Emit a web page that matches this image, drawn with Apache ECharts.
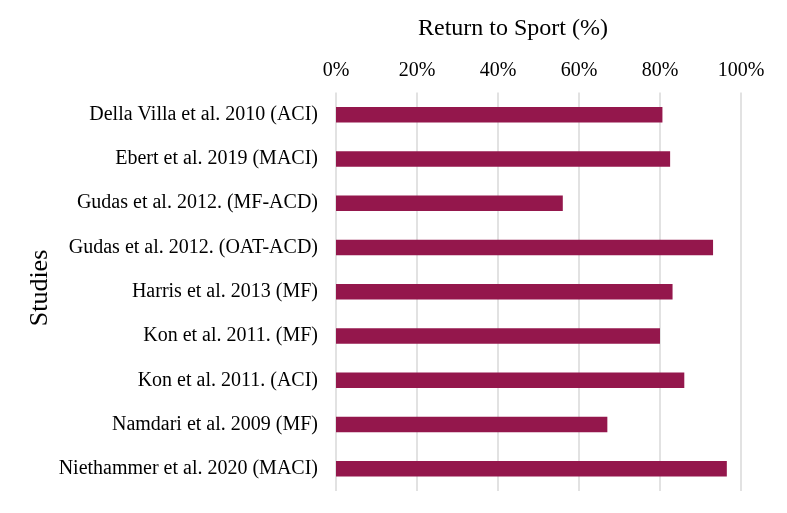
<!DOCTYPE html>
<html><head><meta charset="utf-8">
<script src="https://cdn.jsdelivr.net/npm/echarts@6/dist/echarts.min.js"></script>
<style>html,body{margin:0;padding:0;background:#fff}#c{width:787px;height:513px}</style>
</head><body><div id="c"></div>
<script>
const studies = [
  "Della Villa et al. 2010 (ACI)",
  "Ebert et al. 2019 (MACI)",
  "Gudas et al. 2012. (MF-ACD)",
  "Gudas et al. 2012. (OAT-ACD)",
  "Harris et al. 2013 (MF)",
  "Kon et al. 2011. (MF)",
  "Kon et al. 2011. (ACI)",
  "Namdari et al. 2009 (MF)",
  "Niethammer et al. 2020 (MACI)"
];
const returnToSport = [80.6, 82.5, 56.0, 93.1, 83.1, 80.0, 86.0, 67.0, 96.5];
const xTicks = [0, 20, 40, 60, 80, 100];

const chart = echarts.init(document.getElementById('c'));
const font = "'Liberation Serif', 'Times New Roman', serif";
chart.setOption({
  animation: false,
  title: {
    text: 'Return to Sport (%)',
    left: 508, top: 12, textAlign: 'center',
    textStyle: { fontFamily: font, fontSize: 24, fontWeight: 'normal', color: '#000' }
  },
  graphic: [{
    type: 'text', x: 40, y: 288, rotation: Math.PI / 2,
    style: { text: 'Studies', font: "26px 'Liberation Serif', 'Times New Roman', serif",
             fill: '#000', textAlign: 'center', textVerticalAlign: 'middle' }
  }],
  grid: { left: 336, right: 46, top: 92.5, bottom: 22 },
  xAxis: {
    type: 'value', position: 'top',
    min: xTicks[0], max: xTicks[xTicks.length - 1], interval: 20,
    axisLine: { show: false }, axisTick: { show: false },
    axisLabel: { formatter: '{value}%', fontFamily: font, fontSize: 20, color: '#000', margin: 12 },
    splitLine: { lineStyle: { color: '#d9d9d9', width: 1.5 } }
  },
  yAxis: {
    type: 'category', data: studies, inverse: true,
    axisLine: { show: false }, axisTick: { show: false },
    axisLabel: { fontFamily: font, fontSize: 20, color: '#000', margin: 18 }
  },
  series: [{
    type: 'bar', data: returnToSport, barWidth: '35%',
    itemStyle: { color: '#94174c' }
  }]
});
</script></body></html>
